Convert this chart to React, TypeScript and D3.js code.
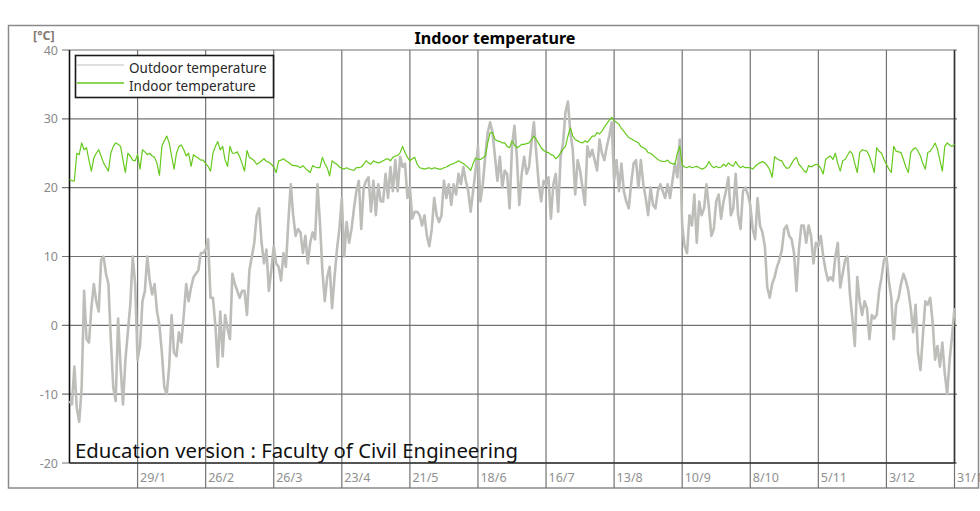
import React from 'react';
import * as d3 from 'd3';

// Daily outdoor temperature [°C], day 0 = 1 Jan
const outdoorTemp: number[] = [
  -11, -11.5, -6, -12, -14, -9, 5, -2, -2.5, 2.5, 6, 3.5, 2, 9.5, 10, 7.5, 6, -2, -9, -11, 1, -6, -11.5, -5, -1, 3, 10, 6,
  -5, -3, 3.5, 5, 10, 6.5, 4.5, 6, 2, 0, -4, -9, -10, -6, 1.5, -4, -4.5, -1, -2.5, 1.5, 6, 3.5, 5.5, 7, 7.5, 8, 10.5, 10.5,
  11, 12.5, 4, 4, 0, -6, 2, -4.5, 1.5, -0.5, -2, 7.5, 6, 5, 4, 5, 5, 1.5, 8, 10, 12, 16, 17, 12, 9, 11, 5, 8,
  11.5, 9, 8.5, 6.5, 10.5, 8.5, 15, 20.5, 16, 13, 14, 13.5, 10.5, 13, 9, 12, 13.5, 12.5, 20.5, 15, 8, 3.5, 7, 8.5, 2.5, 7, 11, 14,
  18.5, 10, 15, 12, 14, 17, 19.5, 21, 14, 20, 21, 21.5, 16.5, 21, 16, 20.5, 18, 18, 22, 18.5, 23, 19.5, 24, 19.5, 24.5, 23, 23.5, 18.5,
  20, 15.5, 16.5, 16.5, 16, 14.5, 16, 13, 11.5, 14, 18.5, 16, 15, 16, 21, 18.5, 20.5, 17.5, 20.5, 19, 22, 20.5, 23, 21, 19.5, 16.5, 19.5, 22.5,
  26, 18, 20.5, 24.5, 28, 29.5, 28, 24.5, 21, 24.5, 20, 22.5, 22, 17, 26, 29, 24.5, 17.5, 22, 24.5, 22, 23, 26.5, 29.5, 25, 20.5, 18, 21,
  20.5, 21.5, 15.5, 20.5, 22, 16.5, 24.5, 26.5, 31, 32.5, 28, 25.5, 19, 24, 22.5, 20, 17.5, 26, 24.5, 25.5, 24, 22.5, 27, 25, 24, 26, 27.5, 29.5,
  21, 24, 19.5, 23.5, 19.5, 18, 17, 20.5, 23.5, 24, 20, 24, 20.5, 18.5, 16, 20, 17.5, 17, 19.5, 20.5, 19.5, 18.5, 20.5, 18.5, 21, 23.5, 21.5, 27,
  14.5, 11.5, 10.5, 16, 14.5, 19, 12, 18, 16, 17, 20.5, 17, 13, 14, 18, 19, 15.5, 18, 19.5, 21.5, 16, 17, 22, 16, 14, 19.5, 20, 19,
  17.5, 14, 12.5, 18.5, 14.5, 13.5, 11.5, 5.5, 4, 6, 7, 8.5, 9.5, 11, 14, 14.5, 13, 12.5, 10.5, 5, 11, 14.5, 14.5, 12, 14.5, 13, 9, 12,
  11.5, 13, 10, 8, 6.5, 7, 6.5, 10, 12, 5.5, 7.5, 9.5, 10, 4.5, 1, -3, 7, 3.5, 1.5, 3.5, 2.5, -2, 1.5, 1, 1.5, 5, 7, 9.5,
  10, 6.5, 4, -2, 3, 4, 6, 7.5, 6.5, 5, 2.5, -1, 3, -4, -6.5, -1.5, 3.5, 3, 4, 0.5, -5, -3, -6, -2.5, -7, -10, -5, -1.5, 2.5,
];

// Daily indoor temperature [°C]
const indoorTemp: number[] = [
  21.2, 21, 21, 25, 24.8, 26.5, 25.5, 25.8, 24, 22.4, 24.3, 25, 25.5, 24.6, 23.6, 23, 22.4, 25, 26, 26.5, 26.3, 26, 24, 22.2, 25, 24.6, 24, 23.9,
  24.8, 22.7, 25.5, 25.2, 24.8, 25, 24.6, 24.4, 23.5, 21.8, 26, 26.8, 27.5, 26.5, 24.6, 22.7, 25, 26, 26.2, 25.5, 24.6, 25, 23.1, 24.8, 24.5, 24.3, 24, 24,
  23.5, 23.1, 22.4, 25, 26, 26.7, 25.5, 26, 24, 23.1, 26, 25, 25, 25.2, 24.5, 23.5, 22.4, 25.4, 24.4, 24.2, 23.9, 23.4, 23.6, 23.9, 24.2, 23.8, 23.7, 23.4,
  23, 22.2, 23.9, 24, 24.2, 23.9, 23.7, 23.4, 23.2, 23.2, 23.1, 22.9, 23.2, 22.8, 22.5, 22.2, 23.2, 23, 22.9, 22.9, 24.4, 23.5, 22.9, 21.7, 23.9, 23.6, 23.4, 23,
  22.8, 22.7, 22.9, 22.7, 22.6, 22.5, 22.9, 22.9, 23, 23.4, 23.9, 23.6, 23.4, 23.9, 23.7, 23.6, 23.7, 23.9, 24.1, 24.2, 23.9, 24.4, 24.6, 24.7, 25.1, 26, 25.1, 24.4,
  23.9, 24.2, 24.4, 23.4, 22.9, 22.8, 22.7, 22.8, 22.9, 22.7, 22.9, 22.8, 22.7, 22.7, 22.9, 23, 23.2, 23.4, 23.5, 23.7, 23.9, 23.7, 23.5, 23.2, 22.9, 22.5, 23.5, 24.3,
  24.1, 24.1, 24.3, 24.6, 26.5, 28, 28, 27, 26.8, 26.7, 26.5, 26.5, 26, 25.8, 26.8, 26.2, 25.8, 26, 26.3, 26.3, 26.4, 26.5, 27, 27.5, 27, 26.4, 25.8, 25.4,
  25.2, 25.1, 24.8, 24.7, 24.2, 24.5, 25.1, 25.6, 26, 27.5, 28.7, 27.5, 27, 26.8, 26.6, 26.5, 26.8, 26.6, 27, 27.5, 27.5, 28, 27.8, 28.2, 28.8, 29.3, 29.8, 30.2,
  29.7, 29.5, 29.2, 28.6, 28.2, 27.7, 27.3, 27.1, 26.9, 26.7, 26.5, 26, 25.8, 25.6, 25.1, 25, 24.7, 24.4, 24.1, 23.9, 23.8, 23.8, 24, 23.6, 23.5, 23.4, 25, 26,
  23.3, 23, 22.9, 23.1, 22.9, 23, 23.1, 22.9, 22.7, 22.8, 23.1, 23.8, 23.2, 22.9, 23.1, 22.9, 23, 23.4, 23.1, 23.6, 23.3, 23.1, 23.8, 23.2, 22.9, 23.1, 22.9, 22.9,
  22.9, 22.7, 23.1, 23.4, 23.6, 23.8, 23.6, 23.2, 22.6, 21.5, 24.5, 24.2, 24, 23.9, 23.2, 22.8, 22.9, 23.5, 24.1, 24.4, 23.4, 23, 22.5, 22.2, 23.2, 23, 23.2, 23.4,
  23.3, 22.8, 22, 24.1, 24.4, 24.6, 24.1, 25, 23.5, 22.4, 23.9, 24.1, 24.7, 25.3, 24.9, 23.5, 22.2, 25.1, 25.5, 25.4, 25.3, 24.6, 23.5, 22.2, 25.8, 25.3, 25, 24.1,
  23.4, 22.7, 22.2, 26, 25.3, 25.2, 25.1, 24.1, 23, 22.2, 25.1, 25.6, 25.8, 25.3, 24.6, 23.5, 22.7, 25.1, 25.3, 25.8, 26.5, 25.6, 24, 22.4, 26, 26.5, 26.2, 26, 26.3,
];

const xTickLabels = ['29/1', '26/2', '26/3', '23/4', '21/5', '18/6', '16/7', '13/8', '10/9', '8/10', '5/11', '3/12', '31/12'];
const xTickDays = [28, 56, 84, 112, 140, 168, 196, 224, 252, 280, 308, 336, 364];
const yTicks = [-20, -10, 0, 10, 20, 30, 40];
const seriesNames = ['Outdoor temperature', 'Indoor temperature'];

const FONT = "'Segoe UI', 'Noto Sans', 'Open Sans', sans-serif";
const OUT_COLOR = '#bdbdb9';
const IN_COLOR = '#66c91e';

export default function App() {
  const W = 980;
  const H = 511;
  const left = 69.5;
  const right = 954.5;
  const top = 50;
  const bottom = 463;

  const x = d3.scaleLinear().domain([0, 364]).range([left, right]);
  const y = d3.scaleLinear().domain([-20, 40]).range([bottom, top]);

  const line = d3
    .line<number>()
    .x((_, i) => x(i))
    .y((d) => y(d))
    .curve(d3.curveLinear);

  return (
    <svg
      width={W}
      height={H}
      viewBox={`0 0 ${W} ${H}`}
      style={{ position: 'absolute', left: 0, top: 0, display: 'block', background: '#fff' }}
      fontFamily={FONT}
    >
      <rect x={0} y={0} width={W} height={H} fill="#fff" />
      {/* outer frame */}
      <rect x={8.5} y={25.5} width={970} height={462.5} fill="none" stroke="#8a8a8a" strokeWidth={1.5} />

      {/* horizontal grid + ticks */}
      {yTicks.map((t) => (
        <g key={'y' + t}>
          <line x1={62} x2={957} y1={y(t)} y2={y(t)} stroke="#737373" strokeWidth={1.2} />
          <text x={58} y={y(t) + 4.5} textAnchor="end" fontSize={12.5} fill="#8a8a8a">
            {t}
          </text>
        </g>
      ))}

      {/* vertical grid + x labels */}
      {xTickDays.map((d, i) => (
        <g key={'x' + d}>
          <line x1={x(d)} x2={x(d)} y1={top} y2={488} stroke="#737373" strokeWidth={1.2} />
          <text x={x(d) + 2.5} y={482} fontSize={12.5} fill="#8f8f8f">
            {xTickLabels[i]}
          </text>
        </g>
      ))}

      {/* axes */}
      <line x1={left} x2={left} y1={top} y2={bottom} stroke="#111" strokeWidth={1.6} />
      <line x1={left} x2={right + 1} y1={bottom} y2={bottom} stroke="#333" strokeWidth={1.6} />
      <line x1={right} x2={right} y1={top} y2={bottom} stroke="#333" strokeWidth={1.6} />

      {/* series */}
      <path d={line(outdoorTemp) || ''} fill="none" stroke={OUT_COLOR} strokeWidth={2.6} strokeLinejoin="round" />
      <path d={line(indoorTemp) || ''} fill="none" stroke={IN_COLOR} strokeWidth={1.2} strokeLinejoin="round" />

      {/* watermark */}
      <text x={75} y={457.5} fontSize={20} fill="#111" textLength={443} lengthAdjust="spacingAndGlyphs">
        Education version : Faculty of Civil Engineering
      </text>

      {/* legend */}
      <rect x={75.5} y={55.5} width={198} height={42} fill="#fff" stroke="#1a1a1a" strokeWidth={1.6} />
      <line x1={77} x2={124} y1={65} y2={65} stroke="#d4d4d4" strokeWidth={1.5} />
      <line x1={77} x2={124} y1={83} y2={83} stroke={IN_COLOR} strokeWidth={1.5} />
      <text x={129} y={72.5} fontSize={13.5} fill="#2a2a2a">{seriesNames[0]}</text>
      <text x={129} y={90.5} fontSize={13.5} fill="#2a2a2a">{seriesNames[1]}</text>

      {/* titles */}
      <text x={495} y={43.5} textAnchor="middle" fontSize={15.5} fontWeight="bold" fill="#000" textLength={161} lengthAdjust="spacingAndGlyphs">
        Indoor temperature
      </text>
      <text x={33} y={39.5} fontSize={12.5} fontWeight="bold" fill="#85796f">
        [°C]
      </text>
    </svg>
  );
}
